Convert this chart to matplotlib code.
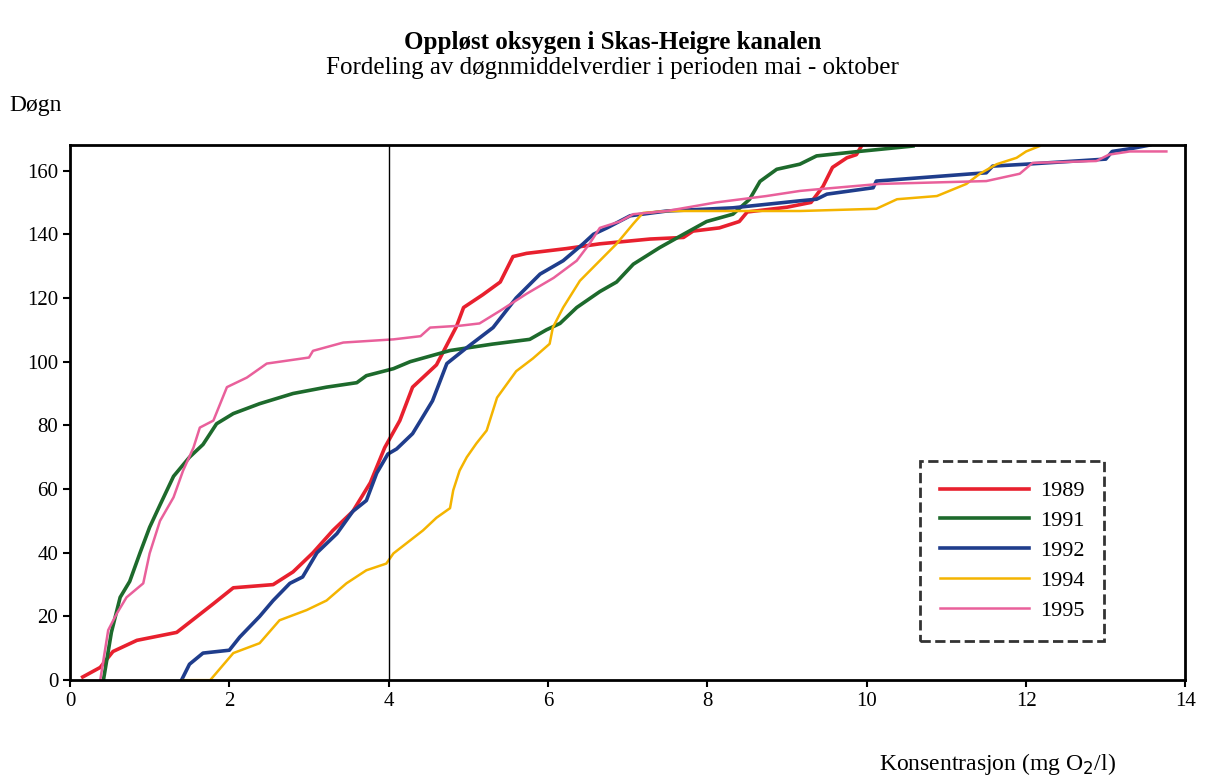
import matplotlib.pyplot as plt

plt.rcParams['font.family'] = ['Liberation Serif', 'DejaVu Serif']

# Distribution curves: concentration (x) vs. cumulative days (y)
x_1989 = [0.16, 0.38, 0.54, 0.84, 1.34, 1.8, 2.05, 2.55, 2.8, 3.05, 3.3, 3.55, 3.77, 3.95,
          4.14, 4.3, 4.6, 4.85, 4.94, 5.18, 5.4, 5.56, 5.73, 6.23, 6.65, 7.28, 7.7, 7.82,
          8.15, 8.4, 8.5, 9.0, 9.3, 9.45, 9.57, 9.75, 9.87, 9.94]
y_1989 = [1, 4, 9, 12.5, 15, 24, 29, 30, 34, 40, 47, 53, 62, 73,
          81.5, 92, 99, 111, 117, 121, 125, 133, 134, 135.5, 137, 138.5, 139, 141,
          142, 144, 147, 148.5, 150, 155, 161, 164, 165, 168]

x_1991 = [0.42, 0.52, 0.63, 0.75, 0.88, 1.0, 1.13, 1.3, 1.5, 1.67, 1.84, 2.05, 2.38, 2.8,
          3.22, 3.6, 3.72, 4.06, 4.27, 4.77, 5.3, 5.77, 5.98, 6.15, 6.36, 6.65, 6.86,
          7.07, 7.4, 7.7, 7.99, 8.32, 8.53, 8.66, 8.87, 9.16, 9.37, 9.9, 10.58]
y_1991 = [0, 15, 26, 31, 40, 48, 55, 64, 70, 74, 80.5, 83.7, 86.8, 90,
          92, 93.4, 95.6, 97.8, 100, 103.5, 105.5, 107, 110, 112, 117, 122, 125,
          130.6, 135.8, 140, 144, 146.3, 151, 156.6, 160.4, 162, 164.6, 166, 167.7]

x_1992 = [1.4, 1.5, 1.67, 2.0, 2.13, 2.38, 2.55, 2.76, 2.92, 3.1, 3.35, 3.55, 3.72, 3.85,
          3.99, 4.1, 4.3, 4.4, 4.55, 4.73, 4.98, 5.31, 5.6, 5.9, 6.19, 6.44, 6.57, 6.74,
          7.03, 7.49, 8.32, 9.16, 9.37, 9.5, 10.08, 10.12, 11.33, 11.5, 11.58, 12.0,
          13.0, 13.08, 13.34, 13.55]
y_1992 = [0, 5, 8.5, 9.4, 13.5, 20, 25, 30.4, 32.4, 40, 46, 53, 56.4, 65,
          71, 72.6, 77.4, 81.5, 87.7, 99.4, 104.4, 110.7, 120, 127.5, 131.7, 137, 140, 142,
          145.8, 147.3, 148.3, 150.5, 151, 152.6, 154.6, 156.7, 159, 159.3, 161.4, 162,
          163.6, 166, 167, 168]

x_1994 = [1.42, 1.76, 2.05, 2.38, 2.63, 2.97, 3.22, 3.47, 3.72, 3.97, 4.06, 4.43, 4.6,
          4.77, 4.81, 4.89, 4.98, 5.1, 5.23, 5.36, 5.6, 5.81, 6.02, 6.06, 6.19, 6.4,
          6.61, 6.86, 7.07, 7.19, 7.49, 9.16, 10.12, 10.38, 10.88, 11.25, 11.42, 11.63,
          11.88, 12.0, 12.17]
y_1994 = [0, 0, 8.5, 11.6, 18.8, 22, 25, 30.4, 34.5, 36.6, 39.8, 47, 51,
          54, 59.6, 65.8, 70, 74.3, 78.4, 88.7, 97, 101, 105.6, 110.7, 117, 125.4,
          130.7, 137, 143.3, 146.7, 147.3, 147.3, 148, 151, 152, 155.8, 159, 162,
          164, 166, 167.7]

x_1995 = [0.38, 0.48, 0.59, 0.71, 0.92, 1.0, 1.13, 1.3, 1.42, 1.55, 1.63, 1.8, 1.97,
          2.22, 2.47, 3.0, 3.05, 3.43, 4.06, 4.4, 4.52, 4.9, 5.14, 5.4, 5.73, 6.07,
          6.36, 6.52, 6.65, 6.9, 7.07, 7.49, 8.11, 8.74, 9.16, 9.33, 10.16, 11.5,
          11.92, 12.08, 12.88, 13.04, 13.3, 13.76]
y_1995 = [0, 15.7, 21, 26, 30.4, 39.8, 50, 57.4, 65.8, 73, 79.3, 81.5, 92,
          95, 99.4, 101.3, 103.4, 106, 107, 108, 110.7, 111.3, 112, 116, 121.3, 126.3,
          131.7, 137, 142, 144, 146.3, 147.3, 150, 152, 153.6, 154, 155.8, 156.7,
          159, 162.4, 163, 165, 166, 166]

years = ['1989', '1991', '1992', '1994', '1995']
colors = ['#e8202e', '#1d6a2c', '#1f3d8c', '#f4b400', '#e9609b']
widths = [2.6, 2.6, 2.6, 1.8, 1.8]

fig = plt.figure(figsize=(12.06, 7.8), dpi=100)
ax = fig.add_axes([0.058, 0.128, 0.925, 0.686])

series = [(x_1989, y_1989), (x_1991, y_1991), (x_1992, y_1992),
          (x_1994, y_1994), (x_1995, y_1995)]
for (xs, ys), year, c, lw in zip(series, years, colors, widths):
    ax.plot(xs, ys, color=c, lw=lw, label=year)

# reference line at 4 mg/l
ax.axvline(4, color='black', lw=1)

ax.set_xlim(0, 14)
ax.set_ylim(0, 168)
ax.set_xticks(range(0, 15, 2))
ax.set_yticks(range(0, 161, 20))
ax.tick_params(direction='out', length=5, width=1.5, labelsize=15)
for s in ax.spines.values():
    s.set_linewidth(2)

fig.text(0.508, 0.945, 'Oppløst oksygen i Skas-Heigre kanalen', ha='center', va='center',
         fontsize=18, fontweight='bold')
fig.text(0.508, 0.913, 'Fordeling av døgnmiddelverdier i perioden mai - oktober',
         ha='center', va='center', fontsize=18)
fig.text(0.008, 0.865, 'Døgn', ha='left', va='center', fontsize=17)
fig.text(0.827, 0.02, 'Konsentrasjon (mg O$_2$/l)', ha='center', va='center', fontsize=17)

leg = ax.legend(loc='upper left', bbox_to_anchor=(0.762, 0.41), fontsize=16,
                frameon=True, fancybox=False, edgecolor='black', handlelength=4.0,
                labelspacing=0.42, borderpad=0.9, handletextpad=0.5, borderaxespad=0)
leg.get_frame().set_linestyle('--')
leg.get_frame().set_linewidth(2)

plt.savefig('out.png', dpi=100)
